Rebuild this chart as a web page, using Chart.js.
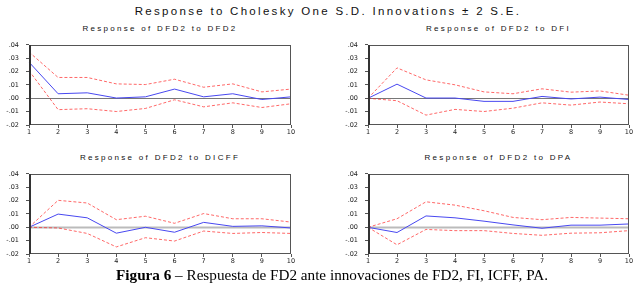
<!DOCTYPE html>
<html>
<head>
<meta charset="utf-8">
<script src="https://cdn.jsdelivr.net/npm/chart.js@4.4.1/dist/chart.umd.min.js"></script>
<style>
  html, body { margin: 0; padding: 0; background: #ffffff; }
  body { width: 644px; height: 292px; position: relative; overflow: hidden; }
  .main-title { position: absolute; top: 5px; left: 0; width: 656px; text-align: center;
    font: 11.5px "Liberation Sans", Arial, sans-serif; letter-spacing: 2.3px; color: #111; white-space: nowrap; }
  .ptitle { position: absolute; text-align: center; font: 8px "Liberation Sans", Arial, sans-serif;
    letter-spacing: 2.3px; color: #111; white-space: nowrap; }
  canvas { position: absolute; }
  .caption { position: absolute; top: 266px; left: 0; width: 664px; text-align: center;
    font: 15.2px "Liberation Serif", "Times New Roman", serif; color: #000; white-space: nowrap; }
</style>
</head>
<body>
<div class="main-title">Response to Cholesky One S.D. Innovations ± 2 S.E.</div>
<div class="ptitle" style="left:29px;width:262px;top:24px;">Response of DFD2 to DFD2</div>
<div class="ptitle" style="left:368px;width:261px;top:24px;">Response of DFD2 to DFI</div>
<div class="ptitle" style="left:29px;width:262px;top:153px;">Response of DFD2 to DICFF</div>
<div class="ptitle" style="left:368px;width:261px;top:153px;">Response of DFD2 to DPA</div>
<canvas id="c1" width="298" height="108" style="left:0px;top:34px;"></canvas>
<canvas id="c2" width="297" height="108" style="left:339px;top:34px;"></canvas>
<canvas id="c3" width="298" height="108" style="left:0px;top:163px;"></canvas>
<canvas id="c4" width="297" height="108" style="left:339px;top:163px;"></canvas>
<div class="caption"><b>Figura 6</b> – Respuesta de FD2 ante innovaciones de FD2, FI, ICFF, PA.</div>
<script>
// ---- Data ----
const steps = ['1','2','3','4','5','6','7','8','9','10'];
const yTickValues = [0.04, 0.03, 0.02, 0.01, 0.00, -0.01, -0.02];

// Response of DFD2 to DFD2
const fd2Resp  = [0.0271, 0.0034, 0.0041, 0.0002, 0.0011, 0.0069, 0.0011, 0.0034, -0.0009, 0.0011];
const fd2Upper = [0.0347, 0.0156, 0.0156, 0.0108, 0.0103, 0.0143, 0.0083, 0.0108, 0.0048, 0.0069];
const fd2Lower = [0.0207, -0.0085, -0.0078, -0.0099, -0.0076, -0.0011, -0.0064, -0.0034, -0.0069, -0.0041];

// Response of DFD2 to DFI
const fiResp  = [0, 0.0106, 0.0002, 0.0002, -0.0023, -0.0023, 0.0014, -0.0005, 0.0009, -0.0009];
const fiUpper = [0, 0.0228, 0.0138, 0.0101, 0.0048, 0.0034, 0.0071, 0.0046, 0.0055, 0.0023];
const fiLower = [0, -0.0018, -0.0126, -0.0083, -0.0099, -0.0074, -0.0034, -0.0051, -0.0028, -0.0041];

// Response of DFD2 to DICFF
const icffResp  = [0, 0.0099, 0.0071, -0.0044, 0.0000, -0.0037, 0.0037, 0.0007, 0.0011, -0.0005];
const icffUpper = [0, 0.0202, 0.0182, 0.0057, 0.0083, 0.0030, 0.0103, 0.0064, 0.0064, 0.0039];
const icffLower = [0, -0.0005, -0.0046, -0.0147, -0.0078, -0.0103, -0.0028, -0.0046, -0.0039, -0.0046];

// Response of DFD2 to DPA
const paResp  = [0, -0.0039, 0.0085, 0.0071, 0.0046, 0.0018, -0.0007, 0.0016, 0.0016, 0.0025];
const paUpper = [0, 0.0064, 0.0191, 0.0166, 0.0124, 0.0074, 0.0057, 0.0074, 0.0069, 0.0064];
const paLower = [0, -0.0131, -0.0016, -0.0025, -0.0025, -0.0046, -0.0060, -0.0044, -0.0041, -0.0025];

// ---- Drawing ----
const frameAndZero = {
  id: 'frameAndZero',
  beforeDatasetsDraw(chart, args, opts) {
    const { ctx, chartArea, scales } = chart;
    const y0 = Math.round(scales.y.getPixelForValue(0)) + 0.5;
    ctx.save();
    ctx.strokeStyle = opts.zeroColor;
    ctx.lineWidth = opts.zeroWidth;
    ctx.beginPath();
    ctx.moveTo(chartArea.left, y0);
    ctx.lineTo(chartArea.right, y0);
    ctx.stroke();
    ctx.restore();
  },
  afterDraw(chart) {
    const { ctx, chartArea } = chart;
    ctx.save();
    ctx.strokeStyle = '#555';
    ctx.lineWidth = 1;
    ctx.strokeRect(Math.round(chartArea.left) + 0.5, Math.round(chartArea.top) + 0.5,
      Math.round(chartArea.right - chartArea.left) - 1, Math.round(chartArea.bottom - chartArea.top) - 1);
    ctx.strokeStyle = '#333';
    ctx.lineWidth = 2;
    ctx.beginPath();
    ctx.moveTo(Math.round(chartArea.left) + 1, chartArea.top);
    ctx.lineTo(Math.round(chartArea.left) + 1, chartArea.bottom);
    ctx.stroke();
    ctx.restore();
  }
};

function makeChart(id, resp, upper, lower, zeroColor, zeroWidth) {
  const redStyle = { borderColor: 'rgba(255,40,40,0.7)', borderWidth: 1, borderDash: [3, 2],
    pointRadius: 0, fill: false, tension: 0 };
  return new Chart(document.getElementById(id), {
    type: 'line',
    data: {
      labels: steps,
      datasets: [
        Object.assign({ label: 'Upper', data: upper }, redStyle),
        Object.assign({ label: 'Lower', data: lower }, redStyle),
        { label: 'Response', data: resp, borderColor: '#4848f0', borderWidth: 1,
          pointRadius: 0, fill: false, tension: 0 }
      ]
    },
    options: {
      responsive: false,
      animation: false,
      devicePixelRatio: 1,
      layout: { padding: { top: 4, right: 7, bottom: 6, left: 0 } },
      plugins: {
        legend: { display: false },
        title: { display: false },
        tooltip: { enabled: false },
        frameAndZero: { zeroColor: zeroColor, zeroWidth: zeroWidth }
      },
      scales: {
        x: {
          type: 'category',
          offset: false,
          border: { display: false },
          grid: { display: true, drawOnChartArea: false, drawTicks: true, tickLength: 3, color: '#555', offset: false },
          ticks: { color: '#222', font: { family: 'DejaVu Sans', size: 6.5 }, padding: 0, maxRotation: 0, autoSkip: false },
          afterFit(scale) { scale.height = 11; }
        },
        y: {
          min: -0.02, max: 0.04,
          border: { display: false },
          afterBuildTicks(scale) { scale.ticks = yTickValues.map(v => ({ value: v })); },
          grid: { display: true, drawOnChartArea: false, drawTicks: true, tickLength: 3, color: '#555' },
          ticks: {
            color: '#222', font: { family: 'DejaVu Sans', size: 6.5 }, padding: 7,
            callback(v) { return Number(v).toFixed(2).replace('0.', '.'); }
          },
          afterFit(scale) { scale.width = 29; }
        }
      }
    },
    plugins: [frameAndZero]
  });
}

makeChart('c1', fd2Resp, fd2Upper, fd2Lower, '#777', 1);
makeChart('c2', fiResp, fiUpper, fiLower, '#777', 1);
makeChart('c3', icffResp, icffUpper, icffLower, '#bbb', 2);
makeChart('c4', paResp, paUpper, paLower, '#bbb', 2);
</script>
</body>
</html>
